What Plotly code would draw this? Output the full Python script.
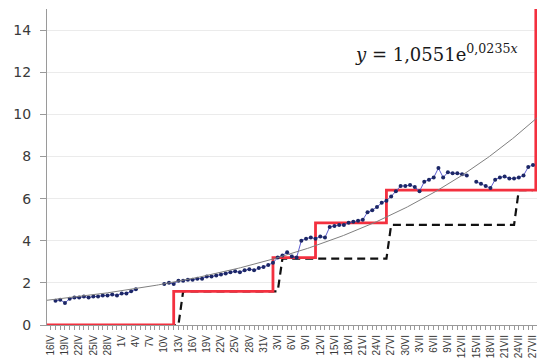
import numpy as np
import plotly.graph_objects as go

# Day index 1..103 covers 16 April .. 27 July; every third day is labelled
TICK_LABELS = ["16IV", "19IV", "22IV", "25IV", "28IV", "1V", "4V", "7V", "10V",
               "13V", "16V", "19V", "22V", "25V", "28V", "31V", "3VI", "6VI",
               "9VI", "12VI", "15VI", "18VI", "21VI", "24VI", "27VI", "30VI",
               "3VII", "6VII", "9VII", "12VII", "15VII", "18VII", "21VII",
               "24VII", "27VII"]
N_DAYS = 103

# Observed daily values (None = no observation that day), day 1..103
OBSERVED = [
    None, 1.15, 1.20, 1.05, 1.25, 1.30, 1.30, 1.35, 1.30, 1.35,   # 1-10
    1.35, 1.40, 1.40, 1.45, 1.40, 1.50, 1.50, 1.60, 1.70, None,   # 11-20
    None, None, None, None, 1.95, 2.00, 1.95, 2.10, 2.10, 2.15,   # 21-30
    2.15, 2.20, 2.20, 2.30, 2.30, 2.35, 2.40, 2.45, 2.50, 2.55,   # 31-40
    2.50, 2.60, 2.65, 2.60, 2.70, 2.75, 2.85, 2.95, 3.20, 3.30,   # 41-50
    3.45, 3.25, 3.20, 4.00, 4.10, 4.15, 4.10, 4.20, 4.15, 4.65,   # 51-60
    4.70, 4.75, 4.75, 4.85, 4.90, 4.95, 5.00, 5.35, 5.45, 5.60,   # 61-70
    5.80, 5.90, 6.10, 6.35, 6.60, 6.60, 6.65, 6.55, 6.35, 6.80,   # 71-80
    6.90, 7.00, 7.45, 7.00, 7.25, 7.20, 7.20, 7.15, 7.10, None,   # 81-90
    6.80, 6.70, 6.60, 6.50, 6.90, 7.00, 7.05, 6.95, 6.95, 7.00,   # 91-100
    7.10, 7.50, 7.60,                                             # 101-103
]

# Dashed daily series: level per day
DASHED = [0.0] * 28 + [1.6] * 21 + [3.15] * 23 + [4.75] * 27 + [6.4] * 4

# Solid step series: day on which each level starts, and the level
STEP_DAY = [0.2, 27, 48, 57, 72, 103.6]
STEP_LEVEL = [0.0, 1.6, 3.2, 4.85, 6.4, 15.0]

# Exponential trend curve
TREND_A = 1.17
TREND_B = 0.0205
EQUATION = "<i>y</i> = 1,0551e<sup>0,0235<i>x</i></sup>"

X_RANGE = [0.2, 103.85]
Y_RANGE = [0, 15]

days = list(range(1, N_DAYS + 1))
label_days = days[::3]

trend_x = np.linspace(X_RANGE[0], X_RANGE[1], 300)
trend_y = TREND_A * np.exp(TREND_B * trend_x)

fig = go.Figure()

fig.add_trace(go.Scatter(
    x=days, y=DASHED, mode="lines",
    line=dict(color="#111111", width=2.2, dash="8px,5px"),
    hoverinfo="skip"))

fig.add_trace(go.Scatter(
    x=STEP_DAY, y=STEP_LEVEL, mode="lines",
    line=dict(color="#f3303f", width=2.8, shape="hv"),
    hoverinfo="skip"))

fig.add_trace(go.Scatter(
    x=days, y=OBSERVED, mode="lines+markers", connectgaps=False,
    line=dict(color="#5c5cd0", width=1),
    marker=dict(color="#1c2766", size=4),
    hoverinfo="skip"))

fig.add_trace(go.Scatter(
    x=trend_x, y=trend_y, mode="lines",
    line=dict(color="#7f7f7f", width=1),
    hoverinfo="skip"))

fig.add_annotation(
    x=0.6245, y=0.86, xref="paper", yref="paper",
    xanchor="left", yanchor="middle", showarrow=False,
    text=EQUATION,
    font=dict(family="DejaVu Serif", size=18, color="#1a1a1a"))

fig.update_layout(
    width=540, height=358,
    margin=dict(l=47, r=3, t=9, b=33),
    paper_bgcolor="white", plot_bgcolor="white",
    showlegend=False,
)

fig.update_xaxes(
    range=X_RANGE, tickmode="array", tickvals=label_days, ticktext=TICK_LABELS,
    tickangle=-90, ticks="outside", ticklen=4, tickcolor="#9a9a9a",
    minor=dict(tick0=1, dtick=1, ticks="outside", ticklen=4,
               tickcolor="#9a9a9a", showgrid=False),
    showline=True, linecolor="#9a9a9a", linewidth=1,
    showgrid=False, zeroline=False, automargin=False,
    tickfont=dict(family="Liberation Sans", size=10, color="#3a3a3a"),
    ticklabelstandoff=1,
)

fig.update_yaxes(
    range=Y_RANGE, tickmode="array", tickvals=list(range(0, 15, 2)),
    ticks="outside", ticklen=6, tickcolor="#9a9a9a",
    showline=True, linecolor="#9a9a9a", linewidth=1,
    showgrid=True, gridcolor="#ebebeb", gridwidth=1, zeroline=False,
    automargin=False,
    tickfont=dict(family="DejaVu Sans", size=14, color="#3a3a3a"),
    ticklabelstandoff=6,
)

fig.write_html("out.html")
